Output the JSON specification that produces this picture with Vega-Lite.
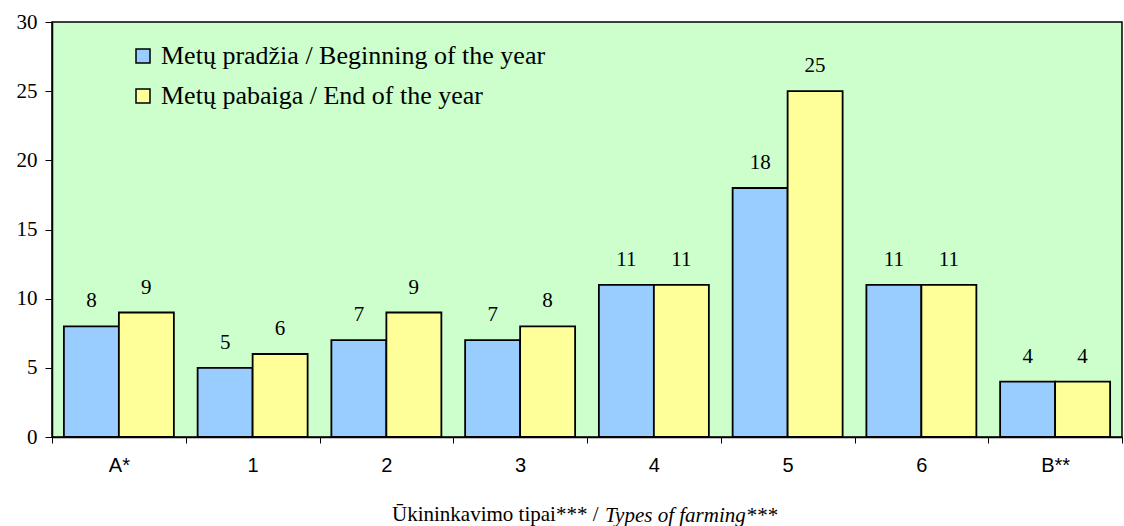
{
  "$schema": "https://vega.github.io/schema/vega-lite/v6.json",
  "width": 1070,
  "height": 415,
  "autosize": {"type": "none"},
  "padding": {"left": 52, "top": 22, "right": 2, "bottom": 89},
  "background": "white",
  "config": {
    "view": {"fill": "#CCFFCC", "stroke": "black", "strokeWidth": 1.5},
    "font": "Liberation Serif"
  },
  "title": {
    "text": "Types of farming***",
    "orient": "bottom",
    "anchor": "start",
    "frame": "group",
    "font": "Liberation Serif",
    "fontStyle": "italic",
    "fontWeight": "normal",
    "fontSize": 21,
    "color": "black",
    "dx": 553,
    "dy": -19,
    "offset": 0
  },
  "data": {
    "values": [
      {"type": "A*", "series": "Metų pradžia / Beginning of the year", "value": 8},
      {"type": "A*", "series": "Metų pabaiga / End of the year", "value": 9},
      {"type": "1", "series": "Metų pradžia / Beginning of the year", "value": 5},
      {"type": "1", "series": "Metų pabaiga / End of the year", "value": 6},
      {"type": "2", "series": "Metų pradžia / Beginning of the year", "value": 7},
      {"type": "2", "series": "Metų pabaiga / End of the year", "value": 9},
      {"type": "3", "series": "Metų pradžia / Beginning of the year", "value": 7},
      {"type": "3", "series": "Metų pabaiga / End of the year", "value": 8},
      {"type": "4", "series": "Metų pradžia / Beginning of the year", "value": 11},
      {"type": "4", "series": "Metų pabaiga / End of the year", "value": 11},
      {"type": "5", "series": "Metų pradžia / Beginning of the year", "value": 18},
      {"type": "5", "series": "Metų pabaiga / End of the year", "value": 25},
      {"type": "6", "series": "Metų pradžia / Beginning of the year", "value": 11},
      {"type": "6", "series": "Metų pabaiga / End of the year", "value": 11},
      {"type": "B**", "series": "Metų pradžia / Beginning of the year", "value": 4},
      {"type": "B**", "series": "Metų pabaiga / End of the year", "value": 4}
    ]
  },
  "encoding": {
    "x": {
      "field": "type",
      "type": "nominal",
      "sort": null,
      "scale": {"paddingInner": 0, "paddingOuter": 0},
      "axis": {
        "title": "Ūkininkavimo tipai*** /",
        "titleFont": "Liberation Serif",
        "titleFontWeight": "normal",
        "titleFontSize": 21,
        "titleColor": "black",
        "titleAlign": "right",
        "titleAnchor": "start",
        "titleBaseline": "alphabetic",
        "titleX": 546,
        "titleY": 83,
        "labelAngle": 0,
        "labelFont": "Liberation Sans",
        "labelFontSize": 20,
        "labelColor": "black",
        "labelPadding": 12,
        "tickBand": "extent",
        "tickSize": 6,
        "tickColor": "black",
        "domainColor": "black",
        "domainWidth": 1.5
      }
    },
    "xOffset": {
      "field": "series",
      "type": "nominal",
      "sort": ["Metų pradžia / Beginning of the year", "Metų pabaiga / End of the year"],
      "scale": {"paddingInner": 0, "paddingOuter": 0.216}
    },
    "y": {
      "field": "value",
      "type": "quantitative",
      "scale": {"domain": [0, 30], "nice": false},
      "axis": {
        "title": null,
        "grid": false,
        "values": [0, 5, 10, 15, 20, 25, 30],
        "labelFont": "Liberation Serif",
        "labelFontSize": 21,
        "labelColor": "black",
        "labelPadding": 8,
        "tickSize": 7,
        "tickColor": "black",
        "domainColor": "black",
        "domainWidth": 1.5
      }
    }
  },
  "layer": [
    {
      "mark": {"type": "bar", "stroke": "black", "strokeWidth": 1.8},
      "encoding": {
        "color": {
          "field": "series",
          "type": "nominal",
          "sort": ["Metų pradžia / Beginning of the year", "Metų pabaiga / End of the year"],
          "scale": {"range": ["#99CCFF", "#FFFF99"]},
          "legend": {
            "title": null,
            "orient": "none",
            "legendX": 78,
            "legendY": 21,
            "symbolType": "square",
            "symbolSize": 196,
            "symbolStrokeColor": "black",
            "symbolStrokeWidth": 1.5,
            "symbolOpacity": 1,
            "labelFont": "Liberation Serif",
            "labelFontSize": 26,
            "labelColor": "black",
            "labelOffset": 5,
            "labelLimit": 600,
            "rowPadding": 14
          }
        }
      }
    },
    {
      "mark": {
        "type": "text",
        "font": "Liberation Serif",
        "fontSize": 21,
        "baseline": "alphabetic",
        "dy": -19,
        "color": "black"
      },
      "encoding": {
        "text": {"field": "value", "type": "quantitative"}
      }
    }
  ]
}
